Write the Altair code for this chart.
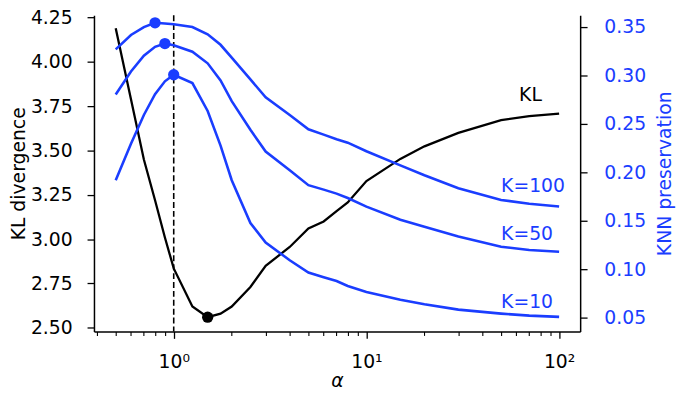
import altair as alt
import pandas as pd

# ---- data ----
alpha = [0.5, 0.6, 0.7, 0.8, 0.9, 1.0, 1.25, 1.5, 1.75, 2, 2.5, 3, 4, 5, 6, 7, 8, 10, 15, 20, 30, 50, 70, 100]
kl = [4.19, 3.79, 3.45, 3.22, 3.01, 2.835, 2.62, 2.56, 2.58, 2.62, 2.73, 2.85, 2.956, 3.06, 3.10, 3.158,
      3.207, 3.328, 3.453, 3.524, 3.60, 3.672, 3.694, 3.709]
knn10 = [0.192, 0.2297, 0.2593, 0.2807, 0.294, 0.3008, 0.2922, 0.2634, 0.2277, 0.192, 0.1479, 0.1278,
         0.1094, 0.0967, 0.092, 0.088, 0.0829, 0.0768, 0.0687, 0.0641, 0.0585, 0.0544, 0.0523, 0.051]
knn50 = [0.2804, 0.3041, 0.3204, 0.3296, 0.333, 0.3313, 0.3245, 0.3126, 0.295, 0.2735, 0.244, 0.2216,
         0.2022, 0.1869, 0.1823, 0.1782, 0.1736, 0.1648, 0.1512, 0.1441, 0.1339, 0.1234, 0.1201, 0.1183]
knn100 = [0.3269, 0.3418, 0.350, 0.3544, 0.3536, 0.3528, 0.350, 0.3426, 0.3317, 0.3184, 0.296, 0.2776,
          0.2593, 0.2445, 0.239, 0.2343, 0.2307, 0.2219, 0.2073, 0.1971, 0.1838, 0.1716, 0.1678, 0.1648]
k_names = ["K=10", "K=50", "K=100"]
kl_ticks = [2.50, 2.75, 3.00, 3.25, 3.50, 3.75, 4.00, 4.25]
knn_ticks = [0.05, 0.10, 0.15, 0.20, 0.25, 0.30, 0.35]
x_major = [1, 10, 100]
x_minor = [0.4, 0.5, 0.6, 0.7, 0.8, 0.9, 2, 3, 4, 5, 6, 7, 8, 9, 20, 30, 40, 50, 60, 70, 80, 90]

BLUE = "#1a3dff"
FONT = "DejaVu Sans"
FS = 19

df_kl = pd.DataFrame({"alpha": alpha, "kl": kl})
df_knn = pd.concat([
    pd.DataFrame({"alpha": alpha, "knn": v, "K": name})
    for name, v in zip(k_names, [knn10, knn50, knn100])
]).reset_index(drop=True)
kl_min = df_kl.loc[[df_kl["kl"].idxmin()]]
knn_max = pd.concat([g.loc[[g["knn"].idxmax()]] for _, g in df_knn.groupby("K")])
one = pd.DataFrame({"i": [0]})

xs = alt.Scale(type="log", domain=[0.3856, 128.6], nice=False)
yl = alt.Scale(domain=[2.4794, 4.2639], nice=False, zero=False)
yr = alt.Scale(domain=[0.036, 0.3622], nice=False, zero=False)

x_axis = alt.Axis(values=x_major, orient="bottom", grid=False, tickSize=7, tickWidth=1.3,
                  tickColor="black", domainColor="black", domainWidth=1.5,
                  labelExpr="datum.value == 1 ? '10⁰' : datum.value == 10 ? '10¹' : '10²'",
                  labelFont=FONT, labelFontSize=FS, labelColor="black", labelPadding=15,
                  title="α", titleFont=FONT, titleFontSize=FS, titleFontStyle="italic",
                  titleFontWeight="normal", titleColor="black", titlePadding=0)
x_minor_axis = alt.Axis(values=x_minor, orient="bottom", grid=False, tickSize=4, tickWidth=1.1,
                        tickColor="black", labels=False, domain=False, title=None)
yl_axis = alt.Axis(values=kl_ticks, orient="left", format=".2f", grid=False, tickSize=7, tickWidth=1.3,
                   tickColor="black", domainColor="black", domainWidth=1.5,
                   labelFont=FONT, labelFontSize=FS, labelColor="black", labelPadding=15,
                   title="KL divergence", titleFont=FONT, titleFontSize=FS, titleFontWeight="normal",
                   titleColor="black", titlePadding=2)
yr_axis = alt.Axis(values=knn_ticks, orient="right", format=".2f", grid=False, tickSize=7, tickWidth=1.3,
                   tickColor="black", domainColor="black", domainWidth=1.5,
                   labelFont=FONT, labelFontSize=FS, labelColor=BLUE, labelPadding=17,
                   title="KNN preservation", titleFont=FONT, titleFontSize=FS, titleFontWeight="normal",
                   titleColor=BLUE, titlePadding=10, titleAngle=270, titleBaseline="top")

kl_line = alt.Chart(df_kl).mark_line(color="black", strokeWidth=2.3).encode(
    x=alt.X("alpha:Q", scale=xs, axis=x_axis),
    y=alt.Y("kl:Q", scale=yl, axis=yl_axis),
)
kl_dot = alt.Chart(kl_min).mark_point(filled=True, color="black", size=130, opacity=1).encode(
    x=alt.X("alpha:Q", scale=xs, axis=None),
    y=alt.Y("kl:Q", scale=yl, axis=None),
)
vrule = alt.Chart(one).mark_rule(color="black", strokeWidth=1.6, strokeDash=[6, 3]).encode(
    x=alt.X(datum=1, scale=xs, axis=x_minor_axis),
)
kl_text = alt.Chart(one).mark_text(text="KL", align="left", baseline="middle", font=FONT,
                                   fontSize=FS, color="black").encode(
    x=alt.X(datum=62, scale=xs, axis=None),
    y=alt.Y(datum=3.815, scale=yl, axis=None),
)
knn_lines = alt.Chart(df_knn).mark_line(color=BLUE, strokeWidth=2.6).encode(
    x=alt.X("alpha:Q", scale=xs, axis=None),
    y=alt.Y("knn:Q", scale=yr, axis=yr_axis),
    detail="K:N",
)
knn_dots = alt.Chart(knn_max).mark_point(filled=True, color=BLUE, size=130, opacity=1).encode(
    x=alt.X("alpha:Q", scale=xs, axis=None),
    y=alt.Y("knn:Q", scale=yr, axis=None),
)

def ktext(label, yv):
    return alt.Chart(one).mark_text(text=label, align="left", baseline="middle", font=FONT,
                                    fontSize=FS, color=BLUE).encode(
        x=alt.X(datum=50, scale=xs, axis=None),
        y=alt.Y(datum=yv, scale=yr, axis=None),
    )

chart = alt.layer(
    vrule, kl_line, kl_dot, kl_text, knn_lines, knn_dots,
    ktext("K=100", 0.186), ktext("K=50", 0.136), ktext("K=10", 0.0665),
).resolve_scale(x="independent", y="independent").properties(
    width=492, height=320,
    autosize=alt.AutoSizeParams(type="none"),
    padding={"left": 87, "top": 5, "right": 98, "bottom": 61},
).configure_view(stroke=None)

chart.save("out.html", embed_options={"renderer": "svg", "actions": False})
